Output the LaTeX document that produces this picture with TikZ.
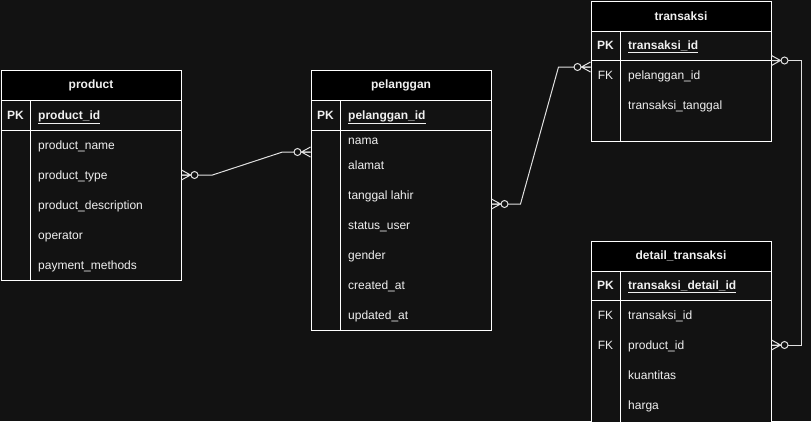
\documentclass[tikz,border=0pt]{standalone}
\usepackage{fontspec}
\setmainfont{Liberation Sans}
\definecolor{bg}{HTML}{121212}
\definecolor{txt}{HTML}{F0F0F0}
\definecolor{edge}{HTML}{FFFFFF}
\definecolor{conncol}{HTML}{E0E0E0}
\begin{document}
\begin{tikzpicture}[x=1pt,y=-1pt,
  every node/.style={font=\fontsize{12}{14}\selectfont, text=txt, inner sep=0pt},
  tbl/.style={draw=edge, fill=bg, line width=1pt, anchor=north west, minimum width=180pt},
  hdr/.style={draw=edge, fill=black, line width=1pt, anchor=north west, minimum width=180pt, minimum height=30pt, font=\fontsize{12}{14}\selectfont\bfseries},
  sep/.style={draw=edge, line width=1pt},
  field/.style={anchor=base west},
  keyf/.style={anchor=base west, font=\fontsize{12}{14}\selectfont\bfseries},
  keylbl/.style={anchor=base},
  pklbl/.style={anchor=base, font=\fontsize{12}{14}\selectfont\bfseries},
  conn/.style={draw=conncol, line width=1pt},
  zmany/.pic={
    \draw[conn] (0,-5) -- (9,0) -- (0,5) (0,0) -- (9,0);
    \draw[conn, fill=bg] (13,0) circle[radius=3.5];
  }
]
\useasboundingbox (0,0) rectangle (811,421);
\fill[bg] (0,0) rectangle (811,421);

% ---------- product ----------
\node[tbl, minimum height=210pt] (product) at (0.5,70) {};
\node[hdr] (product-h) at (product.north west) {product};
\draw[sep] (0.5,130) -- (180.5,130);
\draw[sep] (30.5,100) -- (30.5,280);
\node[pklbl] (product-pk) at (15.5,119.5) {PK};
\node[keyf] (product-id) at (38,119.5) {\underline{product\_id}};
\node[field] (product-name) at (38,149.5) {product\_name};
\node[field] (product-type) at (38,179.5) {product\_type};
\node[field] (product-desc) at (38,209.5) {product\_description};
\node[field] (product-op) at (38,239.5) {operator};
\node[field] (product-pay) at (38,269.5) {payment\_methods};

% ---------- pelanggan ----------
\node[tbl, minimum height=260pt] (pel) at (310.5,70) {};
\node[hdr] (pel-h) at (pel.north west) {pelanggan};
\draw[sep] (310.5,130) -- (490.5,130);
\draw[sep] (340.5,100) -- (340.5,330);
\node[pklbl] (pel-pk) at (325.5,119.5) {PK};
\node[keyf] (pel-id) at (348,119.5) {\underline{pelanggan\_id}};
\node[field] (pel-nama) at (348,144.5) {nama};
\node[field] (pel-alamat) at (348,169.5) {alamat};
\node[field] (pel-tgl) at (348,199.5) {tanggal lahir};
\node[field] (pel-status) at (348,229.5) {status\_user};
\node[field] (pel-gender) at (348,259.5) {gender};
\node[field] (pel-created) at (348,289.5) {created\_at};
\node[field] (pel-updated) at (348,319.5) {updated\_at};

% ---------- transaksi ----------
\node[tbl, minimum height=140pt] (trx) at (590.5,0.5) {};
\node[hdr] (trx-h) at (trx.north west) {transaksi};
\draw[sep] (590.5,60.5) -- (770.5,60.5);
\draw[sep] (620.5,30.5) -- (620.5,140.5);
\node[pklbl] (trx-pk) at (605.5,49.5) {PK};
\node[keyf] (trx-id) at (628,49.5) {\underline{transaksi\_id}};
\node[keylbl] (trx-fk) at (605.5,79.5) {FK};
\node[field] (trx-pel) at (628,79.5) {pelanggan\_id};
\node[field] (trx-tgl) at (628,109.5) {transaksi\_tanggal};

% ---------- detail_transaksi ----------
\node[tbl, minimum height=200pt] (det) at (590.5,240.5) {};
\node[hdr] (det-h) at (det.north west) {detail\_transaksi};
\draw[sep] (590.5,300.5) -- (770.5,300.5);
\draw[sep] (620.5,270.5) -- (620.5,440);
\node[pklbl] (det-pk) at (605.5,289.5) {PK};
\node[keyf] (det-id) at (628,289.5) {\underline{transaksi\_detail\_id}};
\node[keylbl] (det-fk1) at (605.5,319.5) {FK};
\node[field] (det-trx) at (628,319.5) {transaksi\_id};
\node[keylbl] (det-fk2) at (605.5,349.5) {FK};
\node[field] (det-prod) at (628,349.5) {product\_id};
\node[field] (det-qty) at (628,379.5) {kuantitas};
\node[field] (det-harga) at (628,409.5) {harga};

% ---------- connector end points ----------
\coordinate (c1a) at (product.east |- 0,175);
\coordinate (c1b) at (pel.west |- 0,152);
\coordinate (c2a) at (pel.east |- 0,204);
\coordinate (c2b) at (trx.west |- 0,67);
\coordinate (c3a) at (trx.east |- 0,60.5);
\coordinate (c3b) at (det.east |- 0,345);

% ---------- connectors ----------
\draw[conn] (c1a) -- ++(31,0) -- ([xshift=-28pt]c1b) -- (c1b);
\draw[conn] (c2a) -- ++(29,0) -- ([xshift=-32pt]c2b) -- (c2b);
\draw[conn] (c3a) -- ++(30,0) |- (c3b);

\pic at (c1a) {zmany};
\pic[xscale=-1] at (c1b) {zmany};
\pic at (c2a) {zmany};
\pic[xscale=-1] at (c2b) {zmany};
\pic at (c3a) {zmany};
\pic at (c3b) {zmany};
\end{tikzpicture}
\end{document}
